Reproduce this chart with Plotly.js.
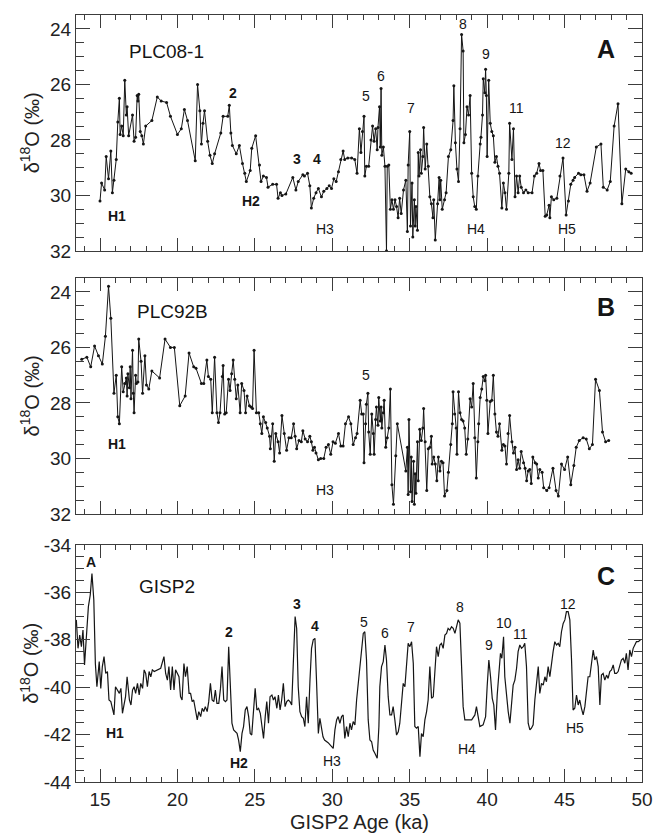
<!DOCTYPE html>
<html>
<head>
<meta charset="utf-8">
<script src="https://cdn.plot.ly/plotly-3.0.1.min.js"></script>
<style>html,body{margin:0;padding:0;background:#fff;overflow:hidden;}#chart{width:656px;height:839px;}</style>
</head>
<body>
<div id="chart"></div>
<script>
// ---------- Panel A: PLC08-1 ----------
const aAge = [15.0,15.1,15.3,15.4,15.55,15.7,15.8,15.9,16.05,16.15,16.25,16.3,16.4,16.5,16.6,16.7,16.75,16.85,17.1,17.2,
17.3,17.4,17.45,17.5,17.6,17.7,17.8,17.95,18.35,18.7,18.95,19.3,19.55,20.0,20.25,20.45,20.65,21.15,21.3,21.45,
21.55,21.65,21.75,21.95,22.1,22.25,22.4,22.8,22.95,23.25,23.35,23.45,23.55,23.8,24.0,24.2,24.35,24.45,24.7,24.8,
25.05,25.3,25.4,25.55,25.75,25.85,26.15,26.4,26.5,26.65,26.75,27.0,27.45,27.65,27.8,28.1,28.2,28.4,28.55,28.65,
28.8,28.95,29.1,
29.3,29.45,29.65,29.8,29.95,30.1,30.25,30.4,30.55,30.7,30.8,31.0,31.25,31.45,31.6,31.75,31.85,31.95,32.05,32.1,
32.2,32.35,32.5,32.6,32.7,32.8,32.9,32.95,33.05,33.1,33.15,33.2,33.3,33.4,33.5,33.55,33.65,33.75,33.85,33.95,
34.05,34.15,34.25,34.35,34.45,34.6,34.75,34.85,34.9,35.0,35.05,35.15,35.2,35.3,35.35,35.4,35.5,35.55,35.6,35.7,
35.75,35.85,35.9,36.0,36.1,36.2,36.3,36.4,36.5,36.55,36.65,36.8,36.9,36.95,37.0,37.1,37.25,37.35,37.5,37.65,
37.8,37.85,37.95,38.05,38.15,38.25,38.35,38.45,38.5,38.6,38.7,38.8,38.9,39.0,39.1,39.2,39.3,39.4,39.55,39.6,
39.7,39.75,39.85,39.9,39.95,40.0,40.1,40.2,40.3,40.4,40.5,40.6,40.7,40.8,40.95,41.05,41.15,41.25,41.4,41.45,
41.6,41.7,41.8,41.9,42.0,42.1,42.2,42.35,42.5,42.65,42.9,43.05,43.2,43.35,43.45,43.6,43.75,43.85,44.0,44.05,
44.15,44.3,44.5,44.7,44.9,45.1,45.25,45.4,45.55,45.65,45.9,46.05,46.25,46.45,46.65,47.05,47.35,47.5,47.75,47.95,
48.2,48.45,48.7,48.95,49.15,49.3];
const aD18O = [30.2,29.55,29.8,28.6,29.4,28.4,29.9,29.45,28.7,27.35,26.5,27.8,27.5,27.85,25.85,27.1,26.8,27.85,27.1,28.05,
27.9,26.4,26.6,26.35,27.7,27.85,28.15,27.5,27.3,26.45,26.6,26.65,27.15,27.8,27.6,26.9,27.3,28.75,26.0,26.95,
28.15,27.4,26.95,28.05,28.55,28.85,28.5,27.75,27.15,27.15,26.75,27.75,28.2,28.5,28.2,28.85,29.2,29.5,29.1,28.3,
27.85,28.9,29.5,29.3,29.35,29.7,29.6,29.6,30.1,29.9,30.0,29.95,29.35,29.8,29.5,29.25,29.3,29.2,29.65,30.45,
30.1,29.9,29.75,
30.05,29.85,29.75,29.65,29.75,29.4,29.5,29.15,28.7,28.4,28.7,28.65,28.65,28.7,29.2,27.6,28.45,27.7,27.15,29.3,
28.95,28.95,28.0,27.5,28.05,27.6,28.35,27.55,26.8,28.25,26.15,28.55,28.25,28.95,32.0,28.95,28.9,30.5,30.15,30.5,
30.15,30.4,30.8,30.1,30.65,29.8,29.45,31.3,28.9,27.7,31.1,29.55,31.5,30.15,31.1,30.4,31.25,28.45,29.3,28.35,
29.2,28.6,27.55,29.05,28.15,28.95,30.05,30.3,30.8,30.15,31.6,30.3,29.35,30.15,29.45,30.5,30.15,29.9,28.6,28.35,
27.3,26.05,28.1,29.05,29.5,27.6,24.2,24.8,28.1,27.8,26.8,27.1,26.4,29.2,30.05,30.4,30.5,29.3,28.15,27.9,
27.1,25.8,26.3,25.45,26.4,28.6,25.85,27.4,27.7,27.85,28.8,28.6,28.95,29.2,30.45,29.55,29.9,30.5,29.2,27.4,
28.7,27.6,30.05,29.3,29.9,29.3,29.7,29.9,29.8,29.9,29.9,29.3,29.2,28.85,29.1,29.1,30.75,30.7,30.35,30.8,
30.05,30.15,30.1,29.3,28.65,30.7,30.2,29.6,29.45,29.35,29.2,29.25,29.25,29.85,29.55,28.25,28.15,29.7,29.8,29.5,
27.5,26.7,30.3,29.05,29.15,29.2];

// ---------- Panel B: PLC92B ----------
const bAge = [13.82,14.15,14.4,14.65,14.9,15.15,15.35,15.55,15.7,15.9,16.05,16.15,16.25,16.4,16.5,16.6,16.7,16.75,16.8,16.9,
16.95,17.0,17.1,17.15,17.2,17.3,17.35,17.45,17.5,17.65,17.75,17.9,18.0,18.15,18.35,18.85,19.2,19.55,19.8,20.15,
20.5,20.75,21.05,21.2,21.55,21.7,21.9,22.0,22.15,22.25,22.4,22.55,22.65,22.75,22.9,22.95,23.05,23.15,23.3,23.4,
23.5,23.6,23.7,23.8,23.9,24.05,24.15,24.3,24.4,24.5,24.65,24.75,24.85,24.95,25.1,25.25,25.35,25.45,25.55,25.7,
25.8,25.95,26.0,26.15,26.25,26.35,26.5,26.6,26.75,26.9,27.05,27.2,27.35,27.5,27.6,27.7,27.85,28.0,28.1,28.25,
28.4,28.55,28.65,28.75,28.85,28.95,29.1,29.25,29.45,29.6,
29.75,29.9,30.05,30.2,30.4,30.55,30.7,30.85,31.05,31.2,31.35,31.5,31.6,31.8,31.9,32.0,32.05,32.15,32.2,32.3,
32.35,32.45,32.55,32.65,32.7,32.8,32.85,32.95,33.0,33.1,33.15,33.2,33.3,33.35,33.45,33.55,33.65,33.75,33.85,33.95,
34.1,34.2,34.75,34.85,34.9,34.95,35.05,35.1,35.15,35.25,35.3,35.35,35.4,35.5,35.55,35.65,35.75,35.85,35.9,36.0,
36.1,36.2,36.3,36.4,36.45,36.55,36.65,36.75,36.85,36.95,37.05,37.15,37.25,37.4,37.5,37.65,37.75,37.8,37.9,38.0,
38.05,38.15,38.25,38.35,38.45,38.55,38.65,38.75,38.9,39.0,39.1,39.2,39.3,39.4,39.45,39.55,39.65,39.75,39.85,39.9,
39.98,40.05,40.2,40.3,40.4,40.5,40.6,40.7,40.8,40.95,41.05,41.15,41.25,41.35,41.45,41.6,41.7,41.8,41.9,42.0,
42.1,42.2,42.35,42.45,42.55,42.65,42.75,42.85,42.95,43.1,43.2,43.3,43.4,43.55,43.65,43.85,44.0,44.25,44.45,44.6,
44.8,45.0,45.2,45.4,45.6,45.75,45.95,46.2,46.4,46.6,46.8,47.0,47.25,47.45,47.65,47.85];
const bD18O = [26.43,26.35,26.7,25.95,26.3,26.6,25.6,23.8,24.95,27.65,27.0,28.5,28.75,26.7,27.6,27.3,27.1,27.75,26.95,27.45,
26.7,27.85,26.1,27.65,28.35,27.0,27.3,27.25,25.7,26.5,27.65,26.3,27.35,27.5,26.85,27.1,25.7,26.0,26.0,28.1,
27.75,26.2,26.7,26.75,27.3,27.3,26.45,27.05,27.15,28.35,26.35,28.35,28.7,28.35,27.05,26.65,28.4,28.35,27.15,27.55,
26.95,26.45,27.15,27.85,27.35,28.35,27.3,27.55,28.35,27.75,28.1,28.15,28.2,26.1,28.35,28.35,28.75,29.1,28.5,28.7,
28.9,29.2,29.65,28.75,30.1,29.1,29.4,29.8,28.45,29.1,29.7,29.25,29.25,28.75,29.2,29.65,29.35,29.4,29.0,29.3,
29.4,29.2,29.4,29.7,29.6,29.8,30.05,30.0,30.0,29.6,
29.5,29.85,29.4,29.45,29.1,29.55,29.55,28.75,28.5,28.75,29.5,29.25,29.1,27.9,28.4,28.4,30.15,28.75,28.05,27.65,
29.05,29.85,28.4,29.1,29.85,28.6,28.15,28.8,27.8,28.65,28.15,28.9,28.35,27.9,29.6,29.25,28.9,27.5,30.95,31.65,
29.9,28.75,30.45,29.6,31.3,28.6,31.2,29.95,31.55,30.1,31.65,30.55,31.25,29.4,30.8,28.95,29.35,28.9,28.2,29.4,
31.15,29.65,29.6,29.2,30.2,29.95,30.2,30.8,29.95,30.45,30.1,30.15,31.35,31.15,30.5,29.5,28.75,27.6,28.4,28.9,
29.85,27.6,28.35,28.6,28.65,28.9,29.85,29.3,27.85,28.15,27.3,29.25,30.7,29.4,28.75,27.8,27.5,27.05,27.2,27.0,
27.9,29.1,27.95,27.9,27.0,28.4,29.05,29.2,28.75,29.7,29.5,29.55,30.2,29.1,28.45,29.4,29.8,29.6,30.4,30.05,
30.35,29.75,30.15,30.35,30.8,30.45,30.4,30.9,29.95,30.15,30.2,30.7,30.4,30.5,31.05,31.15,31.05,30.35,31.15,31.35,
30.2,30.4,29.95,30.95,30.25,29.6,29.35,29.25,29.3,29.65,29.5,27.15,27.55,29.05,29.4,29.35];

// ---------- Panel C: GISP2 ----------
const cAge = [13.47,13.58,13.69,13.8,13.9,14.0,14.15,14.25,14.37,14.48,14.6,14.7,14.8,14.95,15.05,15.15,15.26,15.37,15.48,15.58,
15.7,15.8,15.9,16.0,16.15,16.25,16.35,16.45,16.55,16.65,16.75,16.9,17.0,17.1,17.2,17.3,17.42,17.53,17.63,17.75,
17.85,17.95,18.06,18.17,18.28,18.38,18.5,18.7,18.92,19.13,19.24,19.35,19.45,19.56,19.67,19.78,19.88,20.0,20.1,20.2,
20.3,20.42,20.52,20.63,20.75,20.85,20.95,21.05,21.17,21.28,21.38,21.5,21.6,21.7,21.8,21.92,22.02,22.13,22.24,22.35,
22.45,22.55,22.67,22.78,22.88,22.99,23.1,23.2,23.31,23.42,23.52,23.63,23.74,23.85,23.95,24.06,24.17,24.27,24.38,24.49,
24.6,24.7,24.8,24.92,25.02,25.13,25.24,25.35,25.45,25.56,25.67,25.77,25.88,25.98,26.1,26.2,26.3,26.42,26.52,26.63,
26.73,26.84,26.95,27.06,27.16,27.27,27.38,27.48,27.6,27.7,27.8,27.91,28.02,28.13,28.23,28.34,28.45,28.56,28.66,28.77,
28.88,28.98,29.1,29.2,29.3,29.4,29.5,29.73,
30.06,30.17,30.28,30.38,30.49,30.6,30.7,30.81,30.92,31.03,31.14,31.24,31.35,31.46,31.57,31.67,31.78,31.89,32.0,32.1,
32.21,32.32,32.43,32.54,32.64,32.75,32.9,33.01,33.07,33.18,33.29,33.4,33.5,33.61,33.72,33.83,33.93,34.04,34.15,34.26,
34.36,34.47,34.58,34.69,34.8,34.9,35.01,35.12,35.23,35.33,35.44,35.55,35.66,35.76,35.87,35.98,36.09,36.19,36.3,36.41,
36.52,36.62,36.73,36.84,36.95,37.05,37.16,37.27,37.38,37.48,37.59,37.7,37.81,37.92,38.02,38.13,38.24,38.35,38.45,38.56,
38.78,39.0,39.21,39.31,39.42,39.53,39.74,39.9,40.0,40.11,40.22,40.33,40.43,40.54,40.65,40.76,40.86,40.95,41.06,41.14,
41.25,41.36,41.47,41.57,41.68,41.79,41.9,42.0,42.11,42.22,42.33,42.43,42.54,42.65,42.76,42.86,42.97,43.08,43.19,43.3,
43.4,43.51,43.62,43.73,43.83,43.94,44.05,44.16,44.26,44.37,44.48,44.59,44.69,44.8,44.91,45.02,45.12,45.23,45.34,45.45,
45.55,45.66,45.77,45.88,45.98,46.09,46.2,46.31,46.42,46.52,46.63,46.74,46.85,46.95,47.06,47.17,47.28,47.38,47.49,47.6,
47.71,47.81,47.92,48.03,48.14,48.24,48.35,48.46,48.57,48.67,48.78,48.89,48.99,49.1,49.21,49.32,49.43,49.54,49.64,49.75,
49.9];
const cD18O = [-37.16,-38.36,-37.8,-38.29,-37.59,-39.06,-37.59,-36.6,-36.11,-35.2,-36.32,-39.0,-39.98,-38.92,-40.05,-39.13,-38.71,-39.42,-39.34,-40.54,
-40.61,-40.96,-41.17,-39.98,-40.12,-40.26,-40.05,-41.1,-40.75,-40.4,-39.56,-40.54,-40.75,-40.12,-39.98,-40.26,-39.84,-40.33,-39.84,-40.05,
-39.27,-39.42,-39.98,-39.34,-39.56,-39.27,-39.34,-39.27,-39.2,-38.71,-39.42,-39.7,-39.13,-40.12,-39.13,-40.12,-39.27,-39.42,-39.56,-40.4,
-40.54,-39.0,-39.56,-39.13,-40.26,-40.26,-40.61,-40.54,-40.96,-41.38,-41.03,-41.24,-40.89,-41.03,-40.82,-41.03,-40.61,-39.84,-40.54,-40.61,
-40.12,-40.68,-40.68,-40.05,-39.13,-40.54,-40.61,-40.54,-38.29,-39.7,-41.52,-41.8,-41.88,-41.95,-42.23,-42.72,-41.95,-41.66,-40.96,-40.82,
-41.24,-41.95,-42.02,-40.82,-40.05,-40.96,-40.89,-41.1,-41.52,-42.16,-41.24,-40.61,-41.52,-40.4,-40.33,-40.54,-40.4,-40.89,-40.33,-40.96,
-40.54,-39.84,-40.82,-40.61,-40.54,-40.61,-40.75,-38.85,-37.02,-37.52,-39.98,-41.03,-41.24,-41.31,-41.66,-40.4,-41.52,-39.7,-38.36,-38.0,
-37.94,-39.7,-41.95,-41.31,-41.66,-42.09,-42.23,-42.34,
-42.58,-41.8,-41.38,-41.24,-41.52,-41.24,-41.17,-42.16,-41.66,-42.09,-41.52,-41.8,-41.45,-41.59,-40.54,-39.84,-39.34,-38.57,-37.73,-37.66,
-38.85,-41.38,-42.23,-42.3,-42.65,-42.79,-43.0,-41.66,-39.98,-39.13,-38.92,-38.22,-38.85,-40.4,-41.17,-41.17,-40.82,-41.38,-42.02,-41.88,
-41.52,-40.68,-39.84,-39.98,-39.13,-38.15,-38.29,-38.08,-38.99,-41.66,-41.73,-41.66,-42.93,-41.95,-42.09,-41.38,-41.03,-40.54,-39.13,-40.47,
-40.4,-39.41,-38.29,-38.71,-38.22,-38.15,-38.36,-37.8,-37.73,-37.52,-37.59,-37.45,-37.52,-37.73,-37.38,-37.16,-37.3,-38.85,-40.82,-41.38,
-41.38,-41.38,-41.17,-40.82,-41.24,-41.66,-41.59,-41.24,-39.98,-38.85,-39.56,-40.47,-40.75,-41.8,-40.33,-39.34,-38.57,-38.78,-37.87,-39.56,
-40.47,-41.03,-41.52,-40.89,-39.91,-39.7,-39.2,-38.5,-38.22,-38.36,-38.29,-38.15,-39.13,-41.52,-41.8,-41.73,-41.59,-40.54,-39.84,-39.13,
-40.26,-39.84,-39.91,-39.56,-39.77,-39.13,-39.56,-38.85,-38.5,-38.08,-38.22,-38.15,-38.29,-37.66,-37.31,-37.16,-36.81,-36.81,-37.16,-38.85,
-40.96,-40.89,-40.33,-40.75,-40.54,-40.89,-41.17,-40.82,-40.12,-39.56,-39.56,-38.99,-38.43,-38.85,-38.71,-39.13,-40.75,-39.49,-39.42,-39.7,
-39.49,-39.63,-39.34,-39.27,-39.06,-39.42,-39.42,-39.34,-39.13,-38.85,-38.78,-38.99,-38.57,-39.27,-38.43,-38.71,-38.36,-38.22,-38.08,-38.08,
-38.01];

// ---------- Tick labels ----------
const xTickVals = [15, 20, 25, 30, 35, 40, 45, 50];
const xTickText = ['15', '20', '25', '30', '35', '40', '45', '50'];
const abTickVals = [24, 26, 28, 30, 32];
const abTickText = ['24', '26', '28', '30', '32'];
const cTickVals = [-44, -42, -40, -38, -36, -34];
const cTickText = ['-44', '-42', '-40', '-38', '-36', '-34'];

// ---------- Event labels (text, age, value, bold) ----------
const aLabText = ['H1','2','H2','3','4','H3','5','6','7','8','9','11','12','H4','H5'];
const aLabAge  = [16.1,23.6,24.75,27.7,29.0,29.5,32.2,33.15,35.1,38.45,39.9,41.9,44.9,39.3,45.15];
const aLabVal  = [30.74,26.3,30.2,28.7,28.7,31.2,26.4,25.7,26.85,23.82,24.9,26.85,28.1,31.2,31.2];
const aLabBold = [1,1,1,1,1,0,0,0,0,0,0,0,0,0,0];

const bLabText = ['H1','H3','5'];
const bLabAge  = [16.1,29.5,32.2];
const bLabVal  = [29.47,31.14,27.0];
const bLabBold = [1,0,0];

const cLabText = ['A','H1','2','H2','3','4','H3','5','6','7','8','9','10','11','12','H4','H5'];
const cLabAge  = [14.4,15.97,23.3,23.97,27.7,28.88,29.98,32.04,33.4,35.08,38.24,40.1,41.08,42.18,45.21,38.7,45.66];
const cLabVal  = [-34.72,-41.93,-37.67,-43.2,-36.49,-37.42,-43.11,-37.25,-37.71,-37.46,-36.62,-38.22,-37.29,-37.76,-36.49,-42.6,-41.72];
const cLabBold = [1,1,1,1,1,1,0,0,0,0,0,0,0,0,0,0,0];

const panelNames  = ['PLC08-1','PLC92B','GISP2'];
const panelLetters = ['A','B','C'];
const yTitle = 'δ<sup>18</sup>O (‰)';
const xTitle = 'GISP2 Age (ka)';

// ---------- Styling ----------
const FONT = 'Liberation Sans, Arial, Helvetica, sans-serif';
const INK = '#151515';
const FRAME = '#3c3c3c';
const TXT = '#222';

const traces = [
  {x: aAge, y: aD18O, xaxis: 'x', yaxis: 'y', type: 'scatter', mode: 'lines+markers',
   line: {color: INK, width: 1}, marker: {color: INK, size: 3}},
  {x: bAge, y: bD18O, xaxis: 'x2', yaxis: 'y2', type: 'scatter', mode: 'lines+markers',
   line: {color: INK, width: 1}, marker: {color: INK, size: 3}},
  {x: cAge, y: cD18O, xaxis: 'x3', yaxis: 'y3', type: 'scatter', mode: 'lines',
   line: {color: INK, width: 1.2}}
];

function makeXAxis(showLabels, anchor) {
  return {
    anchor: anchor, range: [13.45, 50], showline: true, linecolor: FRAME, linewidth: 1,
    mirror: 'allticks', ticks: 'inside', ticklen: 13, tickcolor: FRAME, tickwidth: 1,
    showgrid: false, zeroline: false, showticklabels: showLabels,
    tickmode: 'array', tickvals: xTickVals, ticktext: xTickText,
    tickfont: {family: FONT, size: 19, color: TXT},
    minor: {dtick: 1, ticks: 'inside', ticklen: 5, tickcolor: FRAME}
  };
}
function makeYAxis(range, vals, texts, domain, anchor) {
  return {
    domain: domain, anchor: anchor, range: range, showline: true, linecolor: FRAME, linewidth: 1,
    mirror: 'allticks', ticks: 'inside', ticklen: 14, tickcolor: FRAME, tickwidth: 1,
    showgrid: false, zeroline: false,
    tickmode: 'array', tickvals: vals, ticktext: texts,
    tickfont: {family: FONT, size: 19, color: TXT},
    minor: {dtick: 0.5, ticks: 'inside', ticklen: 8, tickcolor: FRAME}
  };
}

const annotations = [];
function addLabels(texts, ages, vals, bolds, xr, yr) {
  for (let i = 0; i < texts.length; i++) {
    annotations.push({
      x: ages[i], y: vals[i], xref: xr, yref: yr, showarrow: false,
      text: bolds[i] ? '<b>' + texts[i] + '</b>' : texts[i],
      font: {family: FONT, size: 14, color: INK}
    });
  }
}
addLabels(aLabText, aLabAge, aLabVal, aLabBold, 'x', 'y');
addLabels(bLabText, bLabAge, bLabVal, bLabBold, 'x2', 'y2');
addLabels(cLabText, cLabAge, cLabVal, cLabBold, 'x3', 'y3');

// domain-referenced texts use Plotly's 'auto' anchoring (top edge above 2/3, right edge beyond 2/3)
const yRefs = ['y', 'y2', 'y3'];
const xRefs = ['x', 'x2', 'x3'];
const nameX = [19.3, 19.65, 19.3];
const nameY = [0.898, 0.911, 0.878];
const letterY = [0.924, 0.945, 0.937];
for (let i = 0; i < 3; i++) {
  annotations.push({
    x: nameX[i], y: nameY[i], xref: xRefs[i], yref: yRefs[i] + ' domain',
    text: panelNames[i], showarrow: false, font: {family: FONT, size: 19, color: INK}
  });
  annotations.push({
    x: 0.956, y: letterY[i], xref: 'paper', yref: yRefs[i] + ' domain',
    text: '<b>' + panelLetters[i] + '</b>', showarrow: false, font: {family: FONT, size: 25, color: INK}
  });
  annotations.push({
    x: -0.108, y: 0.5, xref: 'paper', yref: yRefs[i] + ' domain',
    text: yTitle, showarrow: false, textangle: -90, font: {family: FONT, size: 20, color: TXT}
  });
}
// bottom-anchored (auto) and kept inside the page
annotations.push({
  x: 0.5, y: -0.069, xref: 'paper', yref: 'paper', text: xTitle, showarrow: false,
  font: {family: FONT, size: 20, color: TXT}
});

const layout = {
  width: 656, height: 839,
  margin: {l: 76, r: 14, t: 15, b: 57},
  showlegend: false,
  xaxis: makeXAxis(false, 'y'),
  xaxis2: makeXAxis(false, 'y2'),
  xaxis3: makeXAxis(true, 'y3'),
  yaxis: makeYAxis([32, 23.5], abTickVals, abTickText, [0.6923, 1], 'x'),
  yaxis2: makeYAxis([32, 23.5], abTickVals, abTickText, [0.3494, 0.6571], 'x2'),
  yaxis3: makeYAxis([-44, -34], cTickVals, cTickText, [0, 0.309], 'x3'),
  annotations: annotations
};

Plotly.newPlot('chart', traces, layout, {displayModeBar: false});
</script>
</body>
</html>
